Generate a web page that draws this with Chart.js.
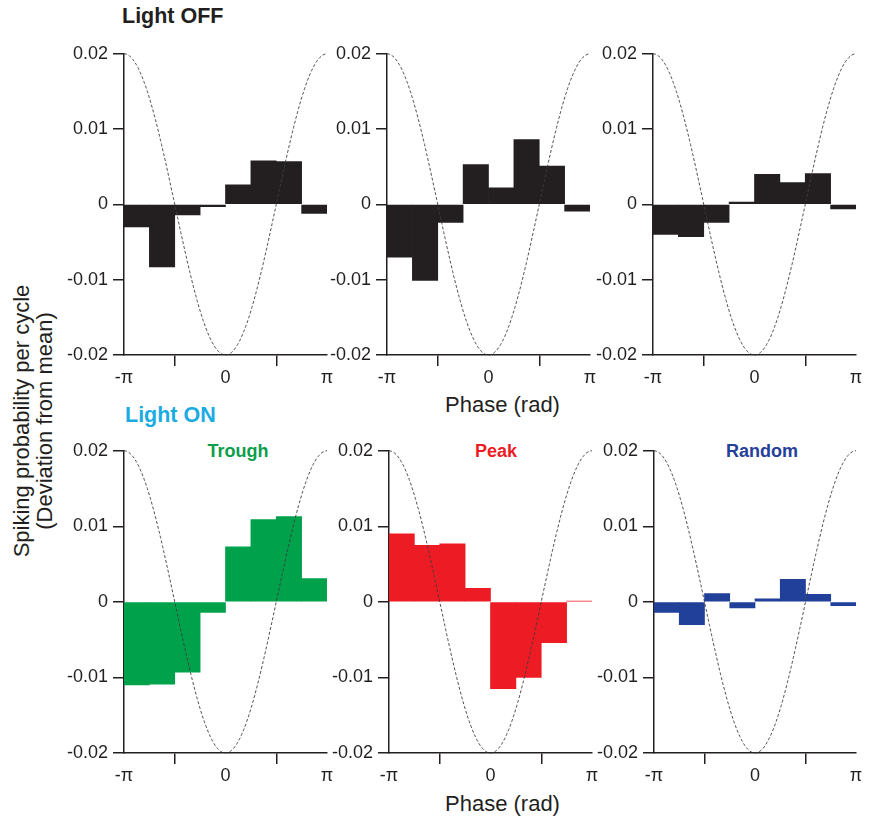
<!DOCTYPE html>
<html>
<head>
<meta charset="utf-8">
<script src="https://cdn.jsdelivr.net/npm/chart.js@4.4.1/dist/chart.umd.min.js"></script>
<style>
  html, body { margin: 0; padding: 0; background: #ffffff; }
  body { width: 870px; height: 818px; position: relative; overflow: hidden;
         font-family: "Liberation Sans", Arial, Helvetica, sans-serif; color: #231f20; }
  canvas { position: absolute; }
  .t { position: absolute; white-space: nowrap; line-height: 1; }
  .b { font-weight: bold; }
  .c { transform: translateX(-50%); }
  .rot { transform: translate(-50%, -50%) rotate(-90deg); }
</style>
</head>
<body>
<div class="t b" style="left:122px; top:6px; font-size:21.5px;">Light OFF</div>
<div class="t b" style="left:125px; top:405px; font-size:21.5px; color:#1aabe3;">Light ON</div>
<div class="t b c" style="left:238px; top:441.5px; font-size:18px; color:#0a9e4a;">Trough</div>
<div class="t b c" style="left:496px; top:441.5px; font-size:18px; color:#ed1c24;">Peak</div>
<div class="t b c" style="left:762px; top:441.5px; font-size:18px; color:#25409a;">Random</div>
<div class="t" style="left:445px; top:394px; font-size:22px;">Phase (rad)</div>
<div class="t" style="left:445px; top:792.5px; font-size:22px;">Phase (rad)</div>
<div class="t rot" style="left:22px; top:421px; font-size:22px;">Spiking probability per cycle</div>
<div class="t rot" style="left:45px; top:421px; font-size:22px;">(Deviation from mean)</div>

<canvas id="c1"></canvas><canvas id="c2"></canvas><canvas id="c3"></canvas>
<canvas id="c4"></canvas><canvas id="c5"></canvas><canvas id="c6"></canvas>

<script>
// ---- data ----
// phase bins: 8 bins of width pi/4 spanning -pi..pi (centres in units of pi/8)
const phaseBinCentresPi8 = [-7, -5, -3, -1, 1, 3, 5, 7];
const phaseTickValuesPi = [-1, 0, 1];
const phaseTickLabels = ['-π', '0', 'π'];
const probTickValues = [-0.02, -0.01, 0, 0.01, 0.02];
const probTickLabels = ['-0.02', '-0.01', '0', '0.01', '0.02'];

const lightOff1 = [-0.0030, -0.0083, -0.0014, -0.0003, 0.0026, 0.0058, 0.0057, -0.0012];
const lightOff2 = [-0.0070, -0.0101, -0.0024, 0.0053, 0.0022, 0.0086, 0.0051, -0.0009];
const lightOff3 = [-0.0040, -0.0043, -0.0024, 0.0003, 0.0040, 0.0029, 0.0041, -0.0006];
const lightOnTrough = [-0.0110, -0.0109, -0.0093, -0.0014, 0.0073, 0.0109, 0.0113, 0.0031];
const lightOnPeak = [0.0090, 0.0075, 0.0077, 0.0018, -0.0115, -0.0100, -0.0054, 0.0001];
const lightOnRandom = [-0.0014, -0.0030, 0.0011, -0.0008, 0.0004, 0.0030, 0.0010, -0.0005];

// reference oscillation drawn on every panel: amplitude 0.02, trough at phase 0
const refAmplitude = 0.02;

// ---- layout ----
const Y_AXIS_W = 60, X_AXIS_H = 40, PAD_T = 12, PAD_R = 12;
const panels = [
  { id: 'c1', data: lightOff1, color: '#231f20', left: 124, top: 49.5, w: 203, h: 305 },
  { id: 'c2', data: lightOff2, color: '#231f20', left: 387, top: 49.5, w: 203, h: 305 },
  { id: 'c3', data: lightOff3, color: '#231f20', left: 653, top: 49.5, w: 203, h: 305 },
  { id: 'c4', data: lightOnTrough, color: '#00a14b', left: 124, top: 447, w: 203, h: 306 },
  { id: 'c5', data: lightOnPeak, color: '#ed1c24', left: 389, top: 447, w: 203, h: 306 },
  { id: 'c6', data: lightOnRandom, color: '#21409a', left: 654, top: 447, w: 202, h: 306 }
];

const cosinePlugin = {
  id: 'refCosine',
  afterDatasetsDraw(chart) {
    const xs = chart.scales.x, ys = chart.scales.y, ctx = chart.ctx;
    ctx.save();
    ctx.strokeStyle = '#3c3c3c';
    ctx.lineWidth = 0.9;
    ctx.setLineDash([3, 2]);
    ctx.beginPath();
    const n = 200;
    for (let i = 0; i <= n; i++) {
      const ph = -Math.PI + (2 * Math.PI) * i / n;
      const px = xs.getPixelForValue(ph);
      const py = ys.getPixelForValue(-refAmplitude * Math.cos(ph));
      if (i === 0) ctx.moveTo(px, py); else ctx.lineTo(px, py);
    }
    ctx.stroke();
    ctx.restore();
  }
};

const axisColor = '#231f20';
const tickFont = { family: '"Liberation Sans", Arial, sans-serif', size: 18 };

panels.forEach(p => {
  const cv = document.getElementById(p.id);
  const W = Y_AXIS_W + p.w + PAD_R, H = PAD_T + p.h + X_AXIS_H;
  cv.width = W; cv.height = H;
  cv.style.width = W + 'px'; cv.style.height = H + 'px';
  cv.style.left = (p.left - Y_AXIS_W) + 'px';
  cv.style.top = (p.top - PAD_T) + 'px';

  new Chart(cv, {
    type: 'bar',
    data: {
      datasets: [{
        data: phaseBinCentresPi8.map((k, i) => ({ x: k * Math.PI / 8, y: p.data[i] })),
        backgroundColor: p.color,
        borderWidth: 0,
        barPercentage: 1,
        categoryPercentage: 1
      }]
    },
    options: {
      responsive: false,
      animation: false,
      devicePixelRatio: 1,
      layout: { padding: { top: PAD_T, right: PAD_R, left: 0, bottom: 0 } },
      plugins: { legend: { display: false }, tooltip: { enabled: false }, title: { display: false } },
      scales: {
        x: {
          type: 'linear',
          offset: false,
          min: -Math.PI, max: Math.PI,
          afterBuildTicks: s => { s.ticks = phaseTickValuesPi.map(v => ({ value: v * Math.PI })); },
          afterFit: s => { s.height = X_AXIS_H; },
          ticks: {
            callback: (v, i) => phaseTickLabels[i],
            color: axisColor, font: tickFont, padding: 1, maxRotation: 0, autoSkip: false
          },
          grid: { drawOnChartArea: false, drawTicks: true, tickLength: 11, color: axisColor, lineWidth: 1.5 },
          border: { display: true, color: axisColor, width: 1.5 }
        },
        y: {
          type: 'linear',
          min: -0.02, max: 0.02,
          afterBuildTicks: s => { s.ticks = probTickValues.map(v => ({ value: v })); },
          afterFit: s => { s.width = Y_AXIS_W; },
          ticks: {
            callback: (v, i) => probTickLabels[i],
            color: axisColor, font: tickFont, padding: 5, autoSkip: false
          },
          grid: { drawOnChartArea: false, drawTicks: true, tickLength: 11, color: axisColor, lineWidth: 1.5 },
          border: { display: true, color: axisColor, width: 1.5 }
        }
      }
    },
    plugins: [cosinePlugin]
  });
});
</script>
</body>
</html>
